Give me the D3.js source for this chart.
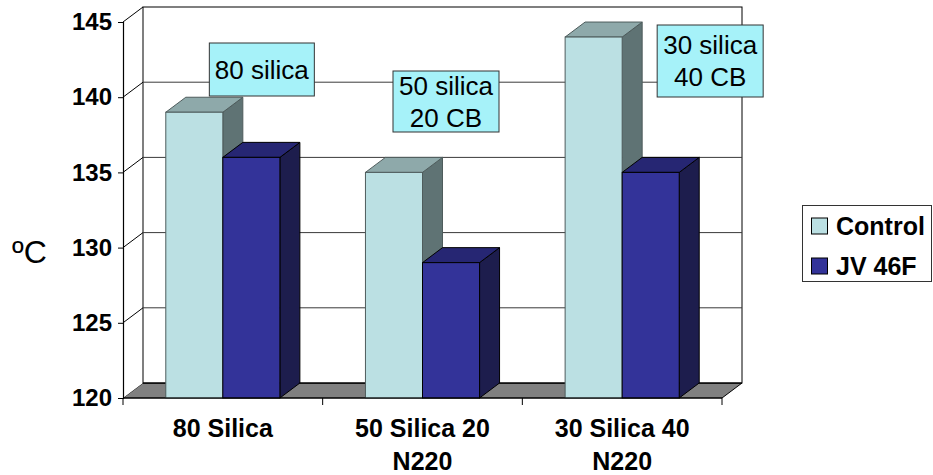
<!DOCTYPE html>
<html>
<head>
<meta charset="utf-8">
<script src="https://cdn.jsdelivr.net/npm/d3@7"></script>
<style>
  html, body { margin: 0; padding: 0; background: #fff; }
  svg { display: block; }
  text { font-family: Arial, "Liberation Sans", Helvetica, sans-serif; fill: #000; }
</style>
</head>
<body>
<svg id="chart" width="933" height="475"></svg>
<script>
// Data
const categories = ["80 Silica", "50 Silica 20 N220", "30 Silica 40 N220"];
const categoryLines = [["80 Silica"], ["50 Silica 20", "N220"], ["30 Silica 40", "N220"]];
const seriesNames = ["Control", "JV 46F"];
const controlValues = [139, 135, 144];
const jvValues = [136, 129, 135];
const yTicks = [120, 125, 130, 135, 140, 145];
const noteLines = [["80 silica"], ["50 silica", "20 CB"], ["30 silica", "40 CB"]];
const yUnit = "ºC";

// Layout
const plotLeft = 123, plotRight = 722, plotBottom = 398, plotTop = 22;
const DX = 20, DY = -15;          // depth offset of the 3-D box
const gapRatio = 1.5;             // gap width = 150% of a bar

const colors = {
  control: { front: "#bbe0e3", top: "#8ea9aa", side: "#5f7374", stroke: "#4e5c5c" },
  jv: { front: "#333399", top: "#262673", side: "#1d1d4d", stroke: "#000" }
};

const svg = d3.select("#chart");

const x = d3.scaleBand().domain(categories).range([plotLeft, plotRight]).paddingInner(0).paddingOuter(0);
const y = d3.scaleLinear().domain([120, 145]).range([plotBottom, plotTop]);
const barW = x.bandwidth() / (2 + gapRatio);

const pts = arr => arr.map(p => p.join(",")).join(" ");

// Floor
svg.append("polygon")
  .attr("points", pts([[plotLeft, plotBottom], [plotRight, plotBottom], [plotRight + DX, plotBottom + DY], [plotLeft + DX, plotBottom + DY]]))
  .attr("fill", "#808080").attr("stroke", "#000").attr("stroke-width", 1);

// Side wall
svg.append("polygon")
  .attr("points", pts([[plotLeft, y(145)], [plotLeft + DX, y(145) + DY], [plotLeft + DX, plotBottom + DY], [plotLeft, plotBottom]]))
  .attr("fill", "#fff").attr("stroke", "none");

// Back wall
svg.append("rect")
  .attr("x", plotLeft + DX).attr("y", y(145) + DY)
  .attr("width", plotRight - plotLeft).attr("height", y(120) - y(145))
  .attr("fill", "#fff").attr("stroke", "#000").attr("stroke-width", 1);

// Gridlines on back wall and side wall
const grid = svg.append("g").attr("stroke", "#3a3a3a").attr("stroke-width", 1);
yTicks.filter(v => v > 120 && v < 145).forEach(v => {
  grid.append("line")
    .attr("x1", plotLeft + DX).attr("x2", plotRight + DX)
    .attr("y1", y(v) + DY).attr("y2", y(v) + DY);
});
yTicks.filter(v => v > 120).forEach(v => {
  grid.append("line")
    .attr("x1", plotLeft).attr("y1", y(v))
    .attr("x2", plotLeft + DX).attr("y2", y(v) + DY)
    .attr("stroke", "#000");
});

// Floor back edge
svg.append("line")
  .attr("x1", plotLeft + DX).attr("x2", plotRight + DX)
  .attr("y1", plotBottom + DY).attr("y2", plotBottom + DY)
  .attr("stroke", "#000");

// Bars
function drawBar(g, x0, v, c) {
  const x1 = x0 + barW, yt = y(v), yb = y(120);
  g.append("polygon")
    .attr("points", pts([[x1, yt], [x1 + DX, yt + DY], [x1 + DX, yb + DY], [x1, yb]]))
    .attr("fill", c.side).attr("stroke", c.stroke).attr("stroke-width", 1);
  g.append("polygon")
    .attr("points", pts([[x0, yt], [x0 + DX, yt + DY], [x1 + DX, yt + DY], [x1, yt]]))
    .attr("fill", c.top).attr("stroke", c.stroke).attr("stroke-width", 1);
  g.append("rect")
    .attr("x", x0).attr("y", yt).attr("width", barW).attr("height", yb - yt)
    .attr("fill", c.front).attr("stroke", c.stroke).attr("stroke-width", 1);
}
const bars = svg.append("g");
categories.forEach((cat, i) => {
  const x0 = x(cat) + barW * gapRatio / 2;
  drawBar(bars, x0, controlValues[i], colors.control);
  drawBar(bars, x0 + barW, jvValues[i], colors.jv);
});

// Front floor edge
svg.append("line")
  .attr("x1", plotLeft).attr("x2", plotRight).attr("y1", plotBottom).attr("y2", plotBottom)
  .attr("stroke", "#000").attr("stroke-width", 1.2);

// Y axis
const yAxis = d3.axisLeft(y).tickValues(yTicks).tickSize(5).tickPadding(6).tickFormat(d3.format("d"));
const ya = svg.append("g").attr("transform", `translate(${plotLeft},0)`).call(yAxis);
ya.select(".domain").attr("stroke", "#000").attr("stroke-width", 1.2);
ya.selectAll(".tick line").attr("stroke", "#000");
ya.selectAll(".tick text")
  .attr("font-family", "Arial, 'Liberation Sans', sans-serif")
  .attr("font-size", 24).attr("font-weight", "bold").attr("fill", "#000");

// X axis category boundary ticks
const bounds = categories.map(c => x(c)).concat([plotRight]);
svg.append("g").selectAll("line").data(bounds).join("line")
  .attr("x1", d => d).attr("x2", d => d)
  .attr("y1", plotBottom).attr("y2", plotBottom + 7)
  .attr("stroke", "#000");

// Category labels
categories.forEach((cat, i) => {
  const cx = x(cat) + x.bandwidth() / 2;
  const t = svg.append("text")
    .attr("x", cx).attr("y", 437)
    .attr("text-anchor", "middle")
    .attr("font-size", 25).attr("font-weight", "bold");
  categoryLines[i].forEach((ln, k) => {
    t.append("tspan").attr("x", cx).attr("dy", k === 0 ? 0 : 33).text(ln);
  });
});

// Unit label
svg.append("text").attr("x", 12).attr("y", 263)
  .attr("font-size", 32).text(yUnit);

// Note boxes
const noteBoxes = [
  { dx: 39, y0: 43, w: 105, h: 53 },
  { dx: 23.5, y0: 71, w: 106, h: 61 },
  { dx: 88, y0: 25, w: 106, h: 72 }
];
categories.forEach((cat, i) => {
  const b = noteBoxes[i];
  const cx = x(cat) + x.bandwidth() / 2 + b.dx;
  const g = svg.append("g");
  g.append("rect")
    .attr("x", cx - b.w / 2).attr("y", b.y0).attr("width", b.w).attr("height", b.h)
    .attr("fill", "#a6f2f9").attr("stroke", "#333").attr("stroke-width", 1);
  const lines = noteLines[i];
  const lh = 32;
  const firstBase = b.y0 + b.h / 2 - (lines.length - 1) * lh / 2 + 9;
  lines.forEach((ln, k) => {
    g.append("text").attr("x", cx).attr("y", firstBase + k * lh)
      .attr("text-anchor", "middle").attr("font-size", 26).text(ln);
  });
});

// Legend
const lg = svg.append("g");
lg.append("rect").attr("x", 802.5).attr("y", 205.5).attr("width", 129).attr("height", 76)
  .attr("fill", "#fff").attr("stroke", "#333").attr("stroke-width", 1);
const legendFill = [colors.control.front, colors.jv.front];
seriesNames.forEach((name, i) => {
  const ry = 218 + i * 40;
  lg.append("rect").attr("x", 811.5).attr("y", ry).attr("width", 16).attr("height", 16)
    .attr("fill", legendFill[i]).attr("stroke", "#000").attr("stroke-width", 1);
  lg.append("text").attr("x", 836).attr("y", ry + 17)
    .attr("font-size", 25).attr("font-weight", "bold").text(name);
});
</script>
</body>
</html>
